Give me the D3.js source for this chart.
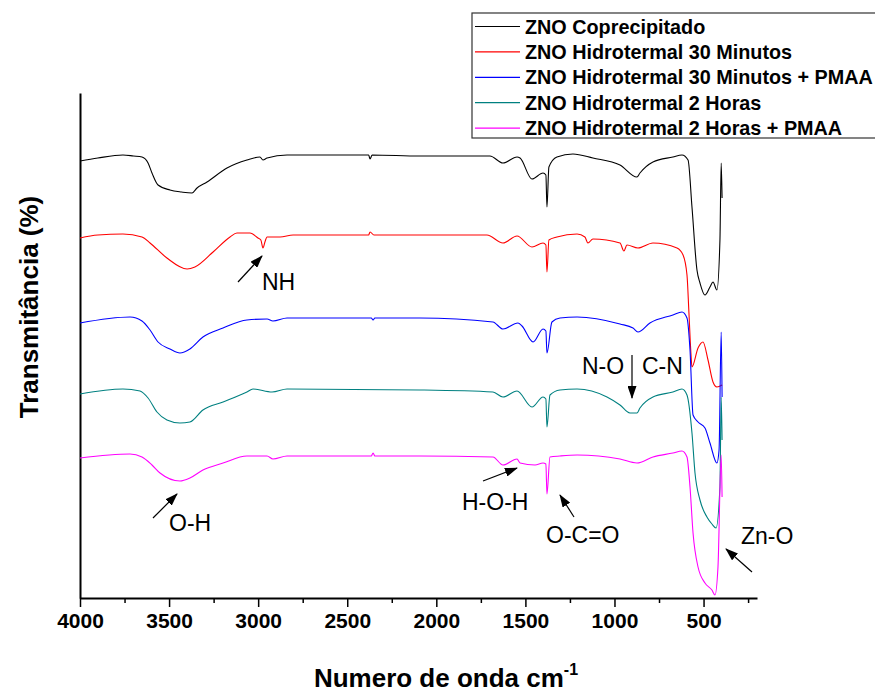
<!DOCTYPE html>
<html>
<head>
<meta charset="utf-8">
<script src="https://cdn.jsdelivr.net/npm/d3@7"></script>
<style>
  body { margin: 0; background: #fff; }
  svg { font-family: "Liberation Sans", Arial, sans-serif; }
</style>
</head>
<body>
<svg id="chart" width="875" height="694"></svg>
<script>
// FTIR spectra: [wavenumber cm-1, transmittance (a.u.)]
var coprecipitado = [
  [4000, 87.4], [3900, 88.0], [3759, 88.6], [3700, 88.4], [3652, 88.2], [3618, 87.0],
  [3596, 85.0], [3562, 82.6], [3495, 81.6], [3430, 81.2], [3371, 81.0], [3343, 82.0],
  [3287, 83.2], [3175, 86.0], [3063, 87.6], [2990, 88.2], [2973, 87.6], [2950, 88.0],
  [2838, 88.6], [2380, 88.6], [2372, 87.8], [2360, 88.6], [2092, 88.4], [1699, 88.4],
  [1626, 87.0], [1547, 88.2], [1530, 88.0], [1463, 83.8], [1401, 85.0], [1385, 84.6],
  [1379, 78.2], [1368, 86.2], [1323, 88.2], [1233, 88.8], [1121, 88.0], [969, 86.6],
  [874, 84.2], [857, 85.0], [784, 87.2], [672, 88.2], [621, 88.6], [587, 87.6],
  [565, 78.2], [537, 65.6], [520, 63.0], [492, 60.6], [464, 62.2], [447, 63.2],
  [425, 61.6], [408, 71.6], [401, 87.0], [396, 80.0]
];
var hidro30 = [
  [4000, 72.0], [3900, 72.6], [3759, 72.8], [3652, 72.2], [3607, 71.0], [3512, 68.0],
  [3399, 65.8], [3355, 66.2], [3253, 69.2], [3158, 72.2], [3119, 73.0], [3046, 73.0],
  [3001, 72.0], [2985, 71.6], [2973, 70.0], [2962, 71.2], [2950, 72.2], [2877, 72.2],
  [2804, 72.6], [2380, 72.6], [2372, 73.2], [2350, 72.6], [1716, 72.6], [1626, 71.0],
  [1547, 72.4], [1463, 70.2], [1401, 71.0], [1385, 70.6], [1379, 65.2], [1368, 71.6],
  [1323, 72.2], [1210, 72.8], [1166, 72.2], [1149, 71.0], [1121, 71.8], [969, 71.0],
  [947, 69.4], [930, 70.6], [868, 70.0], [784, 71.0], [649, 70.0], [615, 68.6],
  [593, 64.6], [582, 57.0], [571, 49.0], [565, 46.2], [531, 50.0], [503, 51.2],
  [475, 47.6], [447, 43.2], [425, 42.2], [396, 42.6]
];
var hidro30Pmaa = [
  [4000, 55.0], [3719, 56.2], [3652, 55.4], [3607, 53.6], [3562, 51.2], [3495, 49.8],
  [3439, 49.0], [3383, 49.8], [3310, 52.2], [3197, 54.0], [3063, 55.6], [2950, 55.8],
  [2917, 55.4], [2838, 56.0], [2365, 56.0], [2355, 55.6], [2345, 56.0], [2092, 56.0],
  [1682, 55.2], [1626, 53.8], [1542, 55.0], [1519, 54.4], [1457, 51.2], [1401, 53.8],
  [1385, 53.4], [1379, 49.0], [1351, 55.2], [1306, 56.0], [1210, 56.2], [969, 54.8],
  [896, 54.0], [868, 53.2], [801, 55.0], [672, 56.6], [621, 57.2], [593, 56.0],
  [576, 49.6], [559, 36.6], [531, 35.2], [492, 34.0], [464, 31.0], [425, 27.0],
  [413, 29.6], [401, 53.2], [396, 40.2]
];
var hidro2h = [
  [4000, 40.8], [3759, 41.8], [3663, 41.4], [3618, 40.0], [3568, 37.2], [3512, 35.6],
  [3439, 35.0], [3383, 35.2], [3310, 37.6], [3197, 39.2], [3063, 41.2], [3029, 41.8],
  [2922, 41.2], [2838, 41.8], [2092, 41.6], [1682, 41.2], [1626, 40.2], [1547, 41.4],
  [1463, 38.2], [1401, 40.2], [1385, 39.8], [1379, 34.2], [1362, 40.6], [1306, 41.6],
  [1210, 41.8], [1042, 40.2], [969, 38.6], [913, 37.0], [874, 37.0], [857, 38.0],
  [784, 40.2], [672, 41.2], [621, 41.8], [593, 40.6], [565, 33.0], [548, 25.0],
  [520, 19.6], [481, 16.2], [453, 14.8], [430, 14.0], [408, 22.2], [401, 40.2], [396, 31.6]
];
var hidro2hPmaa = [
  [4000, 28.0], [3719, 28.8], [3652, 28.2], [3596, 26.6], [3551, 25.0], [3439, 23.4],
  [3383, 24.0], [3310, 25.6], [3197, 27.0], [3063, 28.4], [2950, 28.4], [2917, 27.8],
  [2838, 28.4], [2365, 28.4], [2355, 29.0], [2345, 28.4], [2092, 28.4], [1682, 28.2],
  [1626, 26.6], [1547, 27.8], [1530, 27.0], [1446, 26.6], [1401, 27.0], [1385, 26.8],
  [1379, 20.8], [1362, 28.2], [1306, 28.4], [1210, 28.6], [969, 27.8], [874, 27.0],
  [784, 28.2], [672, 29.0], [621, 29.4], [593, 28.2], [576, 22.2], [559, 13.0],
  [531, 6.2], [492, 3.0], [453, 1.6], [436, 0.6], [419, 6.2], [401, 28.6], [396, 20.2]
];

var seriesNames = [
  "ZNO Coprecipitado",
  "ZNO Hidrotermal 30 Minutos",
  "ZNO Hidrotermal 30 Minutos + PMAA",
  "ZNO Hidrotermal 2 Horas",
  "ZNO Hidrotermal 2 Horas + PMAA"
];
var seriesColors = ["#000000", "#ff0000", "#0000ff", "#008080", "#ff00ff"];
var seriesData = [coprecipitado, hidro30, hidro30Pmaa, hidro2h, hidro2hPmaa];

var majorTicks = [4000, 3500, 3000, 2500, 2000, 1500, 1000, 500];
var minorTicks = [3750, 3250, 2750, 2250, 1750, 1250, 750, 250];

// band labels, placed by hand next to the peaks they point at
var bands = [
  {text: "NH",    tx: 262, ty: 290, from: [238, 282], to: [262, 256]},
  {text: "O-H",   tx: 169, ty: 531, from: [153, 518], to: [177, 494]},
  {text: "H-O-H", tx: 462, ty: 510, from: [483, 481], to: [517, 468]},
  {text: "O-C=O", tx: 546, ty: 543, from: [574, 517], to: [560, 495]},
  {text: "N-O",   tx: 582, ty: 374, from: [632, 355], to: [632, 398]},
  {text: "C-N",   tx: 642, ty: 374, from: null, to: null},
  {text: "Zn-O",  tx: 741, ty: 544, from: [752, 572], to: [726, 549]}
];

var svg = d3.select("#chart");
var margin = {left: 80, right: 118, top: 93, bottom: 96};
var W = 875, H = 694;

var x = d3.scaleLinear().domain([4000, 200]).range([margin.left, W - margin.right]);
var y = d3.scaleLinear().domain([0, 101]).range([H - margin.bottom, margin.top]);

// axes
var xAxis = svg.append("g")
  .attr("transform", "translate(0," + (H - margin.bottom) + ")")
  .call(d3.axisBottom(x).tickValues(majorTicks).tickSize(9).tickSizeOuter(0).tickFormat(d3.format("d")));
xAxis.select(".domain").attr("stroke-width", 2);
xAxis.selectAll(".tick line").attr("stroke-width", 1.5);
xAxis.selectAll(".tick text")
  .attr("font-size", 21).attr("font-weight", "bold").attr("dy", "0.86em")
  .attr("font-family", "'Liberation Sans', Arial, sans-serif");

svg.append("g")
  .attr("transform", "translate(0," + (H - margin.bottom) + ")")
  .call(d3.axisBottom(x).tickValues(minorTicks).tickSize(5).tickFormat(""))
  .call(function(g) { g.select(".domain").remove(); })
  .selectAll(".tick line").attr("stroke-width", 1.5);

svg.append("g")
  .attr("transform", "translate(" + margin.left + ",0)")
  .call(d3.axisLeft(y).tickValues([]).tickSizeOuter(0))
  .select(".domain").attr("stroke-width", 2);

// spectra
var line = d3.line()
  .x(function(d) { return x(d[0]); })
  .y(function(d) { return y(d[1]); })
  .curve(d3.curveMonotoneX);

svg.append("g").selectAll("path").data(seriesData).enter()
  .append("path")
    .attr("fill", "none")
    .attr("stroke", function(d, i) { return seriesColors[i]; })
    .attr("stroke-width", 1.1)
    .attr("d", line);

// titles
svg.append("text")
  .attr("x", 446).attr("y", 687)
  .attr("text-anchor", "middle")
  .attr("font-size", 26).attr("font-weight", "bold")
  .text("Numero de onda cm")
  .append("tspan").attr("dy", -12).attr("font-size", 16).text("-1");

svg.append("text")
  .attr("transform", "translate(38,307) rotate(-90)")
  .attr("text-anchor", "middle")
  .attr("font-size", 26).attr("font-weight", "bold")
  .text("Transmitância (%)");

// legend
var legend = svg.append("g");
legend.append("rect")
  .attr("x", 472).attr("y", 13).attr("width", 420).attr("height", 125)
  .attr("fill", "#fff").attr("stroke", "#333").attr("stroke-width", 1.2);
var rows = legend.selectAll(".row").data(seriesNames).enter()
  .append("g").attr("class", "row")
  .attr("transform", function(d, i) { return "translate(0," + (33.5 + i * 25.4) + ")"; });
rows.append("line")
  .attr("x1", 475).attr("x2", 520).attr("y1", -7).attr("y2", -7)
  .attr("stroke", function(d, i) { return seriesColors[i]; })
  .attr("stroke-width", 1.2);
rows.append("text")
  .attr("x", 525).attr("y", 0)
  .attr("font-size", 19.8).attr("font-weight", "bold")
  .text(function(d) { return d; });

// band annotations
svg.append("defs").append("marker")
  .attr("id", "arrow")
  .attr("markerUnits", "userSpaceOnUse")
  .attr("markerWidth", 13).attr("markerHeight", 9)
  .attr("refX", 12).attr("refY", 4.5)
  .attr("orient", "auto")
  .append("path").attr("d", "M0,0 L13,4.5 L0,9 Z").attr("fill", "#000");

var ann = svg.append("g");
ann.selectAll("line").data(bands.filter(function(b) { return b.from; })).enter()
  .append("line")
    .attr("x1", function(b) { return b.from[0]; })
    .attr("y1", function(b) { return b.from[1]; })
    .attr("x2", function(b) { return b.to[0]; })
    .attr("y2", function(b) { return b.to[1]; })
    .attr("stroke", "#000").attr("stroke-width", 1.2)
    .attr("marker-end", "url(#arrow)");
ann.selectAll("text").data(bands).enter()
  .append("text")
    .attr("x", function(b) { return b.tx; })
    .attr("y", function(b) { return b.ty; })
    .attr("font-size", 23)
    .text(function(b) { return b.text; });
</script>
</body>
</html>
